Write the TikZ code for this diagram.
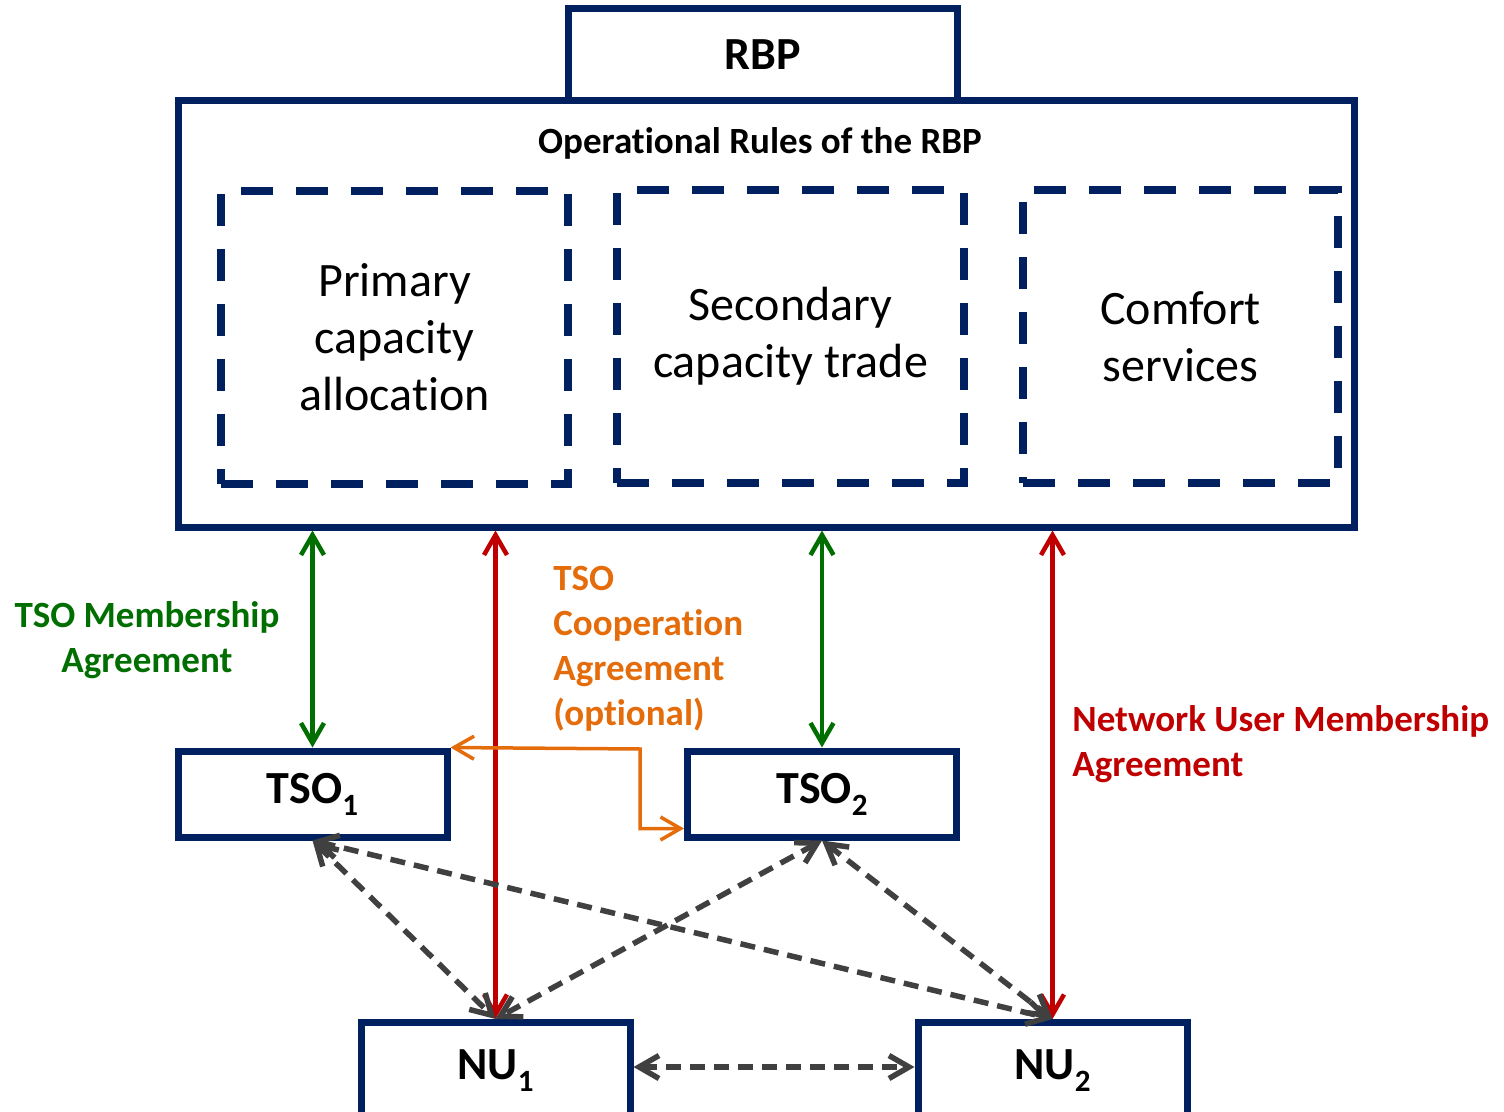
\documentclass[tikz,border=0pt]{standalone}
\usepackage{fontspec}
\setmainfont[Ligatures={NoCommon,NoContextual}]{Carlito}
\usetikzlibrary{arrows.meta}
\definecolor{navy}{RGB}{0,32,96}
\definecolor{agreered}{RGB}{192,0,0}
\definecolor{agreegreen}{RGB}{0,110,0}
\definecolor{agreeorange}{RGB}{228,108,10}
\definecolor{linkgray}{RGB}{64,64,64}
\newcommand{\lowsub}[1]{\raisebox{-6pt}{\fontsize{15.5}{15.5}\selectfont #1}}
\begin{document}
\begin{tikzpicture}[x=0.5pt,y=-0.5pt,inner sep=0pt,
>={Straight Barb[length=10pt,width=11.5pt]},
rulebox/.style={draw=navy,rectangle,line width=3.5pt},
actor/.style={draw=navy,fill=white,rectangle,line width=3.5pt,minimum width=134.5pt,font=\fontsize{23}{28}\selectfont\bfseries},
part/.style={draw=navy,rectangle,line width=3.75pt,dash pattern=on 16pt off 11.5pt,minimum height=146.5pt,align=center,font=\fontsize{24}{28.5}\selectfont},
agreement/.style={font=\fontsize{18.5}{22.5}\selectfont\bfseries},
greenlink/.style={draw=agreegreen,line width=2.25pt,<->},
redlink/.style={draw=agreered,line width=2.25pt,<->},
graylink/.style={draw=linkgray,line width=2.75pt,dash pattern=on 7.5pt off 4.5pt,<->}]
\useasboundingbox (0,0) rectangle (1504,1112);
\draw (766,314) node[rulebox,minimum width=588pt,minimum height=213pt] (rules) {};
\draw (762.5,55) node[rulebox,fill=white,minimum width=194.5pt,minimum height=46pt,font=\fontsize{23}{28}\selectfont\bfseries] (rbp) {RBP};
\draw (760,143) node[font=\fontsize{18.5}{22}\selectfont\bfseries] (title) {Operational Rules of the RBP};
\draw (394.5,337.5) node[part,minimum width=173.5pt] (primary) {Primary\\capacity\\allocation};
\draw (790.5,336.5) node[part,minimum width=173.5pt] (secondary) {Secondary\\capacity trade};
\draw (1180.5,336.5) node[part,minimum width=157.5pt] (comfort) {Comfort\\services};
\draw (312.5,794) node[actor,minimum height=43pt] (tso1) {TSO\lowsub{1}};
\draw (822,794) node[actor,minimum height=43pt] (tso2) {TSO\lowsub{2}};
\draw (495.5,1071) node[actor,minimum height=48.5pt] (nu1) {NU\lowsub{1}};
\draw (1052.5,1071) node[actor,minimum height=48.5pt] (nu2) {NU\lowsub{2}};
\draw[greenlink] (tso1.north |- rules.south) -- (tso1.north);
\draw[greenlink] (tso2.north |- rules.south) -- (tso2.north);
\draw[redlink] (nu1.north |- rules.south) -- (nu1.north);
\draw[redlink] (nu2.north |- rules.south) -- (nu2.north);
\coordinate (bend) at (640,749);
\draw[agreeorange,line width=1.75pt,<->] (tso1.north east) -- (bend) |- ([yshift=6pt]tso2.south west);
\draw[graylink] (tso1.south) -- (nu1.north);
\draw[graylink] (tso1.south) -- (nu2.north);
\draw[graylink] (tso2.south) -- (nu1.north);
\draw[graylink] (tso2.south) -- (nu2.north);
\draw[graylink] ([yshift=2pt]nu1.east) -- ([yshift=2pt]nu2.west);
\draw (147,640) node[agreement,text=agreegreen,align=center] (tsolabel) {TSO Membership\\Agreement};
\draw (553,649) node[agreement,text=agreeorange,align=left,anchor=west] (cooplabel) {TSO\\Cooperation\\Agreement\\(optional)};
\draw (1072,744) node[agreement,text=agreered,align=left,anchor=west] (nulabel) {Network User Membership\\Agreement};
\end{tikzpicture}
\end{document}
